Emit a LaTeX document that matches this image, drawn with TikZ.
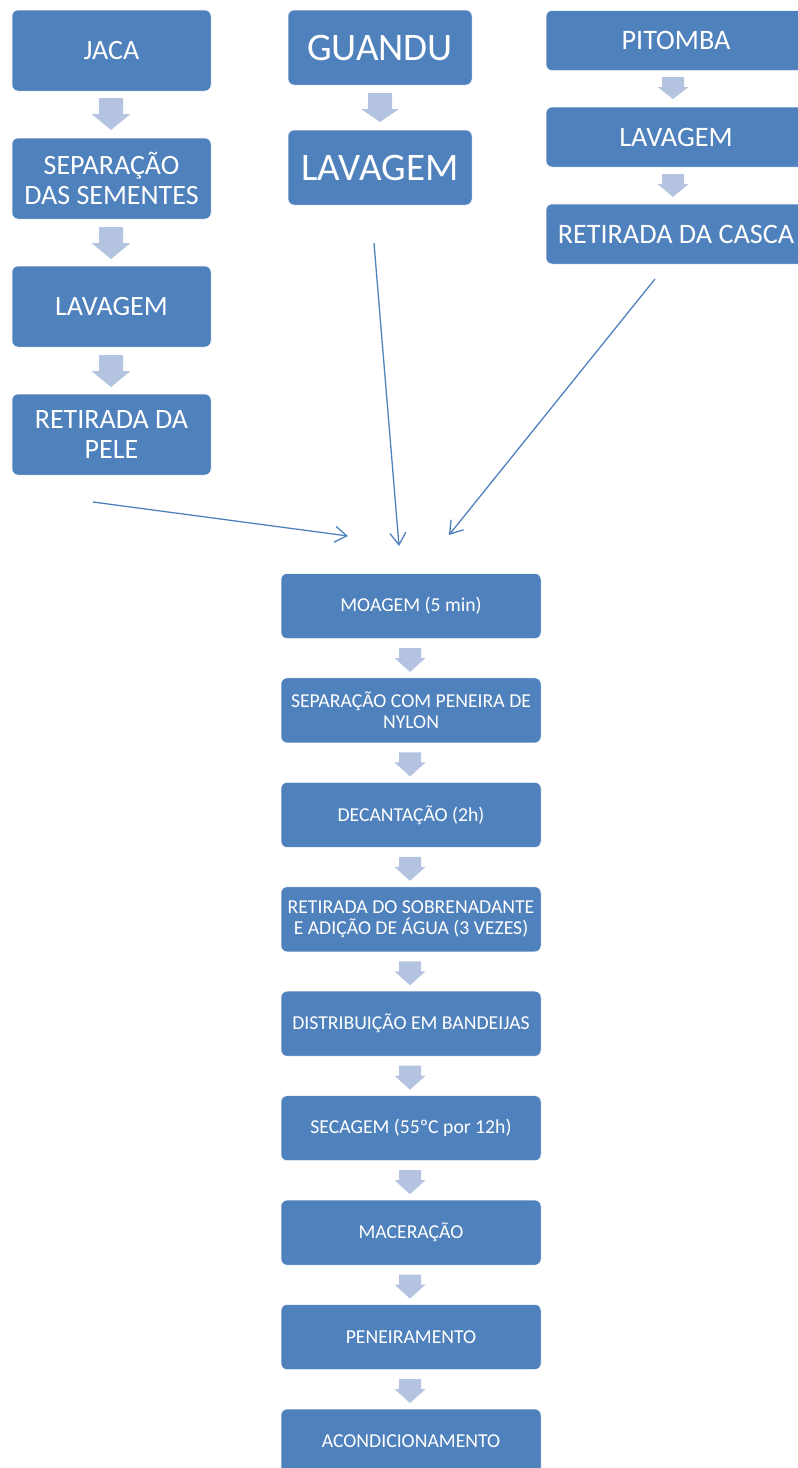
\documentclass[tikz,border=0pt]{standalone}
\usepackage{fontspec}
\setmainfont{Carlito}
\usetikzlibrary{arrows.meta}
\definecolor{boxblue}{HTML}{4F81BD}
\definecolor{arrblue}{HTML}{B4C4E0}
\newcommand{\blockarr}[6]{\fill[arrblue] ({#1-#5/2},#2) -- ({#1+#5/2},#2) -- ({#1+#5/2},#3) -- ({#1+#6/2},#3) -- (#1,#4) -- ({#1-#6/2},#3) -- ({#1-#5/2},#3) -- cycle;}
\begin{document}
\begin{tikzpicture}[x=1pt,y=-1pt,
  box/.style={fill=boxblue, draw=white, line width=0.5pt, rounded corners=6pt, text=white, align=center, inner sep=0pt},
  lbox/.style={box, minimum width=199pt, minimum height=81pt, font=\fontsize{28}{30}\selectfont},
  mbox/.style={box, minimum width=184pt, minimum height=75pt, font=\fontsize{39}{41}\selectfont},
  rbox/.style={box, minimum width=260pt, minimum height=60pt, font=\fontsize{28.2}{30}\selectfont},
  bbox/.style={box, minimum width=260pt, minimum height=65pt, font=\fontsize{19.7}{21}\selectfont},
  link/.style={draw=boxblue, line width=1.3pt, -{Straight Barb[length=12pt,width=16pt,line width=1.3pt]}}]
\useasboundingbox (0,0) rectangle (798,1468);
\begin{scope}
\clip (0,0) rectangle (798,1468);
% left column
\node[lbox] (jaca) at (111.5,50.5) {JACA};
\node[lbox] (sep) at (111.5,178.5) {SEPARAÇÃO\\DAS SEMENTES};
\node[lbox] (lavj) at (111.5,306.5) {LAVAGEM};
\node[lbox] (pele) at (111.5,434.5) {RETIRADA DA\\PELE};
\blockarr{111}{98}{114}{130}{24}{39}
\blockarr{111}{227}{243}{259}{24}{39}
\blockarr{111}{355}{371}{387}{24}{39}
% middle column
\node[mbox] (guandu) at (380,47.5) {GUANDU};
\node[mbox] (lavg) at (380,167.5) {LAVAGEM};
\blockarr{380}{93}{109}{122}{24}{38}
% right column
\node[rbox] (pitomba) at (676,40.5) {PITOMBA};
\node[rbox] (lavp) at (676,137) {LAVAGEM};
\node[rbox] (casca) at (676,234) {RETIRADA DA CASCA};
\blockarr{673}{77}{87}{99}{22}{31}
\blockarr{673}{174}{184}{197}{22}{31}
% bottom column
\node[bbox] (b0) at (411,606) {MOAGEM (5 min)};
\node[bbox] (b1) at (411,710.4) {SEPARAÇÃO COM PENEIRA DE\\NYLON};
\node[bbox] (b2) at (411,814.9) {DECANTAÇÃO (2h)};
\node[bbox] (b3) at (411,919.3) {RETIRADA DO SOBRENADANTE\\E ADIÇÃO DE ÁGUA (3 VEZES)};
\node[bbox] (b4) at (411,1023.7) {DISTRIBUIÇÃO EM BANDEIJAS};
\node[bbox] (b5) at (411,1128.2) {SECAGEM (55ºC por 12h)};
\node[bbox] (b6) at (411,1232.6) {MACERAÇÃO};
\node[bbox] (b7) at (411,1337) {PENEIRAMENTO};
\node[bbox] (b8) at (411,1441.5) {ACONDICIONAMENTO};
\foreach \k in {0,...,7}{
  \pgfmathsetmacro{\ya}{648+104.43*\k}
  \pgfmathsetmacro{\yb}{658+104.43*\k}
  \pgfmathsetmacro{\yc}{672+104.43*\k}
  \blockarr{410}{\ya}{\yb}{\yc}{22}{31}
}
\end{scope}
% connectors
\coordinate (s1) at (93,502);
\coordinate (e1) at (348,536);
\coordinate (s2) at (374,243);
\coordinate (e2) at (399,546);
\coordinate (s3) at (655,279);
\coordinate (e3) at (449,535);
\draw[link] (s1) -- (e1);
\draw[link] (s2) -- (e2);
\draw[link] (s3) -- (e3);
\end{tikzpicture}
\end{document}
